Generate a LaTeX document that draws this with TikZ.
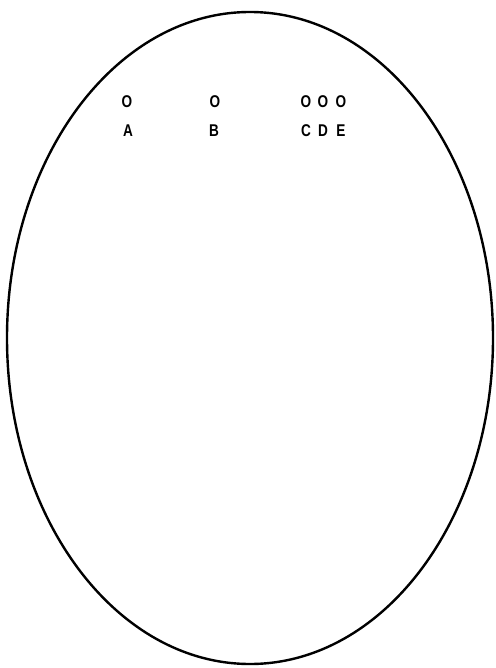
\documentclass[tikz,border=0pt]{standalone}
\usepackage{fontspec}
\setmainfont{Liberation Sans}
\begin{document}
\begin{tikzpicture}[x=1pt,y=-1pt,
  lbl/.style={inner sep=0pt,font=\fontsize{17}{17}\selectfont\bfseries,xscale=0.8,transform shape}]
\useasboundingbox (0,0) rectangle (495,668);
\draw[line width=2.4pt] (250,338) ellipse [x radius=243, y radius=326];
\node[lbl] (oa) at (127,102) {O};
\node[lbl] (la) at (128,131) {A};
\node[lbl] (ob) at (215,102) {O};
\node[lbl] (lb) at (214,131) {B};
\node[lbl] (oc) at (306,102) {O};
\node[lbl] (od) at (323,102) {O};
\node[lbl] (oe) at (341,102) {O};
\node[lbl] (lc) at (306,131) {C};
\node[lbl] (ld) at (323,131) {D};
\node[lbl] (le) at (341,131) {E};
\end{tikzpicture}
\end{document}
